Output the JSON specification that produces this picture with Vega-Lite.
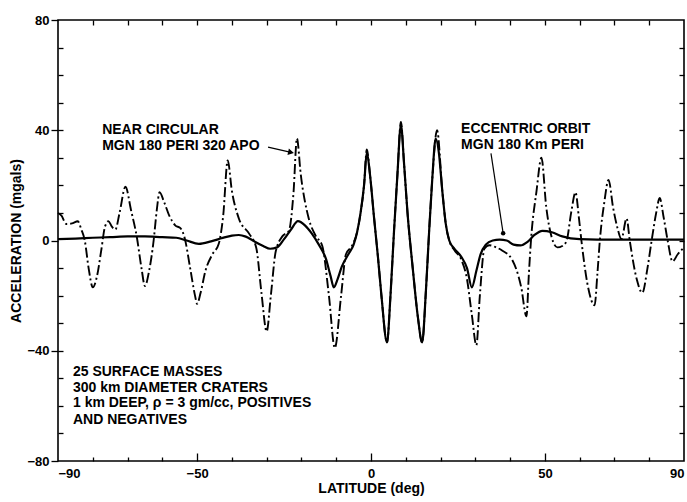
{
  "$schema": "https://vega.github.io/schema/vega-lite/v6.json",
  "width": 626,
  "height": 441,
  "autosize": {"type": "none"},
  "padding": {"left": 58, "top": 20, "right": 3, "bottom": 41},
  "background": "white",
  "config": {
    "view": {"stroke": "black", "strokeWidth": 1.6},
    "font": "Liberation Sans",
    "axis": {
      "domain": false, "grid": false,
      "tickColor": "black", "tickWidth": 1.3,
      "labelColor": "black", "titleColor": "black",
      "labelFont": "Liberation Sans", "labelFontWeight": "bold", "labelFontSize": 13,
      "titleFont": "Liberation Sans", "titleFontWeight": "bold", "titleFontSize": 14,
      "labelFlush": false, "labelOverlap": false
    }
  },
  "datasets": {
    "near": [
      {"lat": -90, "acc": 10}, {"lat": -89, "acc": 9}, {"lat": -87.6, "acc": 6}, {"lat": -86, "acc": 6.2},
      {"lat": -84.3, "acc": 7}, {"lat": -83.3, "acc": 4}, {"lat": -82.3, "acc": 0}, {"lat": -81.2, "acc": -10},
      {"lat": -80, "acc": -17}, {"lat": -78.8, "acc": -13}, {"lat": -77.5, "acc": -3}, {"lat": -76.5, "acc": 5},
      {"lat": -75.5, "acc": 7}, {"lat": -74.5, "acc": 5}, {"lat": -73.5, "acc": 4}, {"lat": -72.3, "acc": 10},
      {"lat": -70.6, "acc": 19.5}, {"lat": -69, "acc": 11}, {"lat": -67.3, "acc": 1}, {"lat": -66, "acc": -10},
      {"lat": -65, "acc": -16.5}, {"lat": -63.8, "acc": -11}, {"lat": -62.5, "acc": 0}, {"lat": -61.6, "acc": 11},
      {"lat": -60.8, "acc": 17.5}, {"lat": -59.5, "acc": 14}, {"lat": -58, "acc": 9}, {"lat": -56.3, "acc": 5.5},
      {"lat": -54.8, "acc": 4.5}, {"lat": -53.5, "acc": 0.5}, {"lat": -52, "acc": -10}, {"lat": -50.6, "acc": -20},
      {"lat": -50, "acc": -23}, {"lat": -49, "acc": -19}, {"lat": -47.6, "acc": -11}, {"lat": -45.6, "acc": -5},
      {"lat": -43.8, "acc": -1.3}, {"lat": -42.5, "acc": 9}, {"lat": -41.2, "acc": 29}, {"lat": -40, "acc": 18},
      {"lat": -38, "acc": 8}, {"lat": -35, "acc": 2.4}, {"lat": -33, "acc": -2.6}, {"lat": -31.5, "acc": -19},
      {"lat": -30, "acc": -33}, {"lat": -28.8, "acc": -20}, {"lat": -27.4, "acc": -4}, {"lat": -25.5, "acc": 1.5},
      {"lat": -23.6, "acc": 3.5}, {"lat": -22.3, "acc": 17}, {"lat": -21.3, "acc": 37}, {"lat": -20.2, "acc": 24},
      {"lat": -17.9, "acc": 8}, {"lat": -15.9, "acc": 1.7}, {"lat": -14, "acc": -2}, {"lat": -12.1, "acc": -20},
      {"lat": -10.4, "acc": -39}, {"lat": -8.6, "acc": -20}, {"lat": -7.2, "acc": -5}, {"lat": -5.5, "acc": -2},
      {"lat": -4, "acc": 3}, {"lat": -3, "acc": 10}, {"lat": -2, "acc": 20}, {"lat": -1.2, "acc": 33},
      {"lat": -0.3, "acc": 24}, {"lat": 0.9, "acc": 8}, {"lat": 2, "acc": -6}, {"lat": 3, "acc": -20},
      {"lat": 4.6, "acc": -37}, {"lat": 5.6, "acc": -20}, {"lat": 6.6, "acc": 3}, {"lat": 7.6, "acc": 24},
      {"lat": 8.6, "acc": 43}, {"lat": 9.5, "acc": 28}, {"lat": 10.5, "acc": 10}, {"lat": 12, "acc": -10},
      {"lat": 13.5, "acc": -28}, {"lat": 14.7, "acc": -37}, {"lat": 15.8, "acc": -18}, {"lat": 16.7, "acc": 3},
      {"lat": 17.6, "acc": 22}, {"lat": 19, "acc": 40}, {"lat": 20.5, "acc": 18}, {"lat": 21.5, "acc": 6},
      {"lat": 22.5, "acc": 0}, {"lat": 24, "acc": -3.5}, {"lat": 26, "acc": -7}, {"lat": 27.6, "acc": -14},
      {"lat": 29, "acc": -27}, {"lat": 30.3, "acc": -38}, {"lat": 31.3, "acc": -20}, {"lat": 32.6, "acc": -3},
      {"lat": 34, "acc": -1.7}, {"lat": 36, "acc": -2.5}, {"lat": 37.8, "acc": -3.7}, {"lat": 40.6, "acc": -7},
      {"lat": 43.2, "acc": -17}, {"lat": 44.7, "acc": -27.5}, {"lat": 45.4, "acc": -12}, {"lat": 46, "acc": 0},
      {"lat": 47.6, "acc": 18}, {"lat": 49, "acc": 30}, {"lat": 50.4, "acc": 12}, {"lat": 52, "acc": 1},
      {"lat": 53.6, "acc": -2.5}, {"lat": 55, "acc": -2}, {"lat": 56.2, "acc": -0.3}, {"lat": 57.6, "acc": 10.5},
      {"lat": 58.8, "acc": 17.5}, {"lat": 59.8, "acc": 8}, {"lat": 60.5, "acc": 0}, {"lat": 62.2, "acc": -15.5},
      {"lat": 64.3, "acc": -23.5}, {"lat": 65.1, "acc": -12}, {"lat": 65.8, "acc": 0}, {"lat": 67.1, "acc": 14},
      {"lat": 68.3, "acc": 22}, {"lat": 69.6, "acc": 12}, {"lat": 70.9, "acc": 4.4}, {"lat": 72, "acc": 0.5},
      {"lat": 73.5, "acc": 8}, {"lat": 74.4, "acc": 0}, {"lat": 76.4, "acc": -14}, {"lat": 78, "acc": -19},
      {"lat": 79.5, "acc": -10}, {"lat": 80.7, "acc": 0}, {"lat": 82, "acc": 10}, {"lat": 83, "acc": 15.4},
      {"lat": 84.2, "acc": 8}, {"lat": 85.3, "acc": 0}, {"lat": 86.7, "acc": -7.6}, {"lat": 88.2, "acc": -5},
      {"lat": 90, "acc": -2.5}
    ],
    "ecc": [
      {"lat": -90, "acc": 0.5}, {"lat": -85, "acc": 0.7}, {"lat": -80, "acc": 1}, {"lat": -75, "acc": 1.2},
      {"lat": -70, "acc": 1.5}, {"lat": -65, "acc": 1.5}, {"lat": -60, "acc": 1.2}, {"lat": -56, "acc": 1},
      {"lat": -53, "acc": 0}, {"lat": -49.5, "acc": -1.2}, {"lat": -46, "acc": -0.3}, {"lat": -43, "acc": 0.8},
      {"lat": -40, "acc": 1.8}, {"lat": -38, "acc": 2}, {"lat": -36, "acc": 1.4}, {"lat": -34, "acc": 0},
      {"lat": -31, "acc": -2}, {"lat": -29, "acc": -3}, {"lat": -27, "acc": -2.5}, {"lat": -25, "acc": 0.5},
      {"lat": -23, "acc": 4}, {"lat": -21, "acc": 7}, {"lat": -19, "acc": 5.5}, {"lat": -17, "acc": 2.5},
      {"lat": -15, "acc": -1.5}, {"lat": -13, "acc": -6.5}, {"lat": -11.6, "acc": -13}, {"lat": -10.7, "acc": -17},
      {"lat": -9.6, "acc": -14}, {"lat": -8.4, "acc": -9.5}, {"lat": -6.5, "acc": -5}, {"lat": -5, "acc": -1.5},
      {"lat": -4, "acc": 3}, {"lat": -3, "acc": 10}, {"lat": -2, "acc": 20}, {"lat": -1.2, "acc": 32},
      {"lat": -0.3, "acc": 24}, {"lat": 0.9, "acc": 8}, {"lat": 2, "acc": -6}, {"lat": 3, "acc": -20},
      {"lat": 4.6, "acc": -37}, {"lat": 5.6, "acc": -20}, {"lat": 6.6, "acc": 3}, {"lat": 7.6, "acc": 24},
      {"lat": 8.6, "acc": 42}, {"lat": 9.5, "acc": 28}, {"lat": 10.5, "acc": 10}, {"lat": 12, "acc": -10},
      {"lat": 13.5, "acc": -28}, {"lat": 14.7, "acc": -37}, {"lat": 15.8, "acc": -18}, {"lat": 16.7, "acc": 3},
      {"lat": 17.6, "acc": 22}, {"lat": 18.6, "acc": 37}, {"lat": 19.5, "acc": 32}, {"lat": 20.5, "acc": 18},
      {"lat": 21.5, "acc": 6}, {"lat": 22.5, "acc": 0}, {"lat": 24, "acc": -3}, {"lat": 26, "acc": -6},
      {"lat": 27.6, "acc": -10}, {"lat": 29, "acc": -17}, {"lat": 30.3, "acc": -11}, {"lat": 31.5, "acc": -5},
      {"lat": 33, "acc": -1.5}, {"lat": 35, "acc": 0}, {"lat": 37, "acc": 0.3}, {"lat": 39, "acc": 0},
      {"lat": 41, "acc": -1.5}, {"lat": 43, "acc": -1.8}, {"lat": 45, "acc": -0.5}, {"lat": 47, "acc": 2},
      {"lat": 49.3, "acc": 3.5}, {"lat": 52, "acc": 3}, {"lat": 55, "acc": 1.5}, {"lat": 60, "acc": 0.5},
      {"lat": 70, "acc": 0.3}, {"lat": 80, "acc": 0.3}, {"lat": 90, "acc": 0.3}
    ],
    "notes": [
      {"label": "NEAR CIRCULAR", "lat": -77.3, "acc": 38.8},
      {"label": "MGN 180 PERI 320 APO", "lat": -77.3, "acc": 32.7},
      {"label": "ECCENTRIC ORBIT", "lat": 25.9, "acc": 39.0},
      {"label": "MGN 180 Km PERI", "lat": 25.9, "acc": 33.2},
      {"label": "25 SURFACE MASSES", "lat": -85.7, "acc": -49.1},
      {"label": "300 km DIAMETER CRATERS", "lat": -85.7, "acc": -54.9},
      {"label": "1 km DEEP, ρ = 3 gm/cc, POSITIVES", "lat": -85.7, "acc": -60.3},
      {"label": "AND NEGATIVES", "lat": -85.7, "acc": -66.4}
    ],
    "arrows": [
      {"name": "apo", "x1": -29.6, "y1": 33.9, "x2": -23.0, "y2": 32.0},
      {"name": "ecc", "x1": 34.5, "y1": 31.6, "x2": 38.0, "y2": 2.6}
    ]
  },
  "resolve": {"axis": {"x": "independent", "y": "independent"}},
  "layer": [
    {
      "data": {"name": "near"},
      "mark": {"type": "line", "interpolate": "monotone", "stroke": "black", "strokeWidth": 1.9, "strokeDash": [10, 3, 2, 3]},
      "encoding": {
        "x": {"field": "lat", "type": "quantitative",
          "scale": {"domain": [-90, 90], "nice": false, "zero": false},
          "axis": {"orient": "bottom", "values": [-90, -50, 0, 50, 90], "ticks": false, "labelPadding": 6, "labelFlush": true, "title": "LATITUDE (deg)", "titlePadding": 1}},
        "y": {"field": "acc", "type": "quantitative",
          "scale": {"domain": [-80, 80], "nice": false, "zero": false},
          "axis": {"orient": "left", "values": [-80, -40, 0, 40, 80], "tickSize": 7, "labelPadding": 2, "title": "ACCELERATION (mgals)", "titlePadding": 3}}
      }
    },
    {
      "data": {"name": "ecc"},
      "mark": {"type": "line", "interpolate": "monotone", "stroke": "black", "strokeWidth": 2.2},
      "encoding": {
        "x": {"field": "lat", "type": "quantitative",
          "scale": {"domain": [-90, 90], "nice": false, "zero": false},
          "axis": {"orient": "top", "values": [-80, -70, -60, -50, -40, -30, -20, -10, 0, 10, 20, 30, 40, 50, 60, 70, 80], "tickSize": -5, "labels": false, "title": null}},
        "y": {"field": "acc", "type": "quantitative",
          "scale": {"domain": [-80, 80], "nice": false, "zero": false},
          "axis": {"orient": "right", "values": [-70, -60, -50, -40, -30, -20, -10, 0, 10, 20, 30, 40, 50, 60, 70], "tickSize": -5, "labels": false, "title": null}}
      }
    },
    {
      "data": {"name": "notes"},
      "mark": {"type": "text", "align": "left", "baseline": "alphabetic", "font": "Liberation Sans", "fontWeight": "bold", "fontSize": 14, "color": "black"},
      "encoding": {
        "x": {"field": "lat", "type": "quantitative",
          "scale": {"domain": [-90, 90], "nice": false, "zero": false},
          "axis": {"orient": "bottom", "values": [-80, -70, -60, -40, -30, -20, -10, 10, 20, 30, 40, 60, 70, 80], "tickSize": -4, "labels": false, "title": null}},
        "y": {"field": "acc", "type": "quantitative",
          "scale": {"domain": [-80, 80], "nice": false, "zero": false},
          "axis": {"orient": "left", "values": [-70, -60, -50, -40, -30, -20, -10, 10, 20, 30, 40, 50, 60, 70], "tickSize": -5, "labels": false, "title": null}},
        "text": {"field": "label", "type": "nominal"}
      }
    },
    {
      "data": {"name": "arrows"},
      "mark": {"type": "rule", "stroke": "black", "strokeWidth": 1.2},
      "encoding": {
        "x": {"field": "x1", "type": "quantitative",
          "scale": {"domain": [-90, 90], "nice": false, "zero": false},
          "axis": {"orient": "bottom", "values": [-50, 0, 50], "tickSize": -8, "labels": false, "title": null}},
        "y": {"field": "y1", "type": "quantitative",
          "scale": {"domain": [-80, 80], "nice": false, "zero": false}, "axis": null},
        "x2": {"field": "x2"},
        "y2": {"field": "y2"}
      }
    },
    {
      "data": {"name": "arrows"},
      "transform": [{"filter": "datum.name === 'apo'"}],
      "mark": {"type": "point", "shape": "triangle-right", "filled": true, "color": "black", "size": 45, "angle": 12, "opacity": 1},
      "encoding": {
        "x": {"field": "x2", "type": "quantitative", "scale": {"domain": [-90, 90], "nice": false, "zero": false}, "axis": null},
        "y": {"field": "y2", "type": "quantitative", "scale": {"domain": [-80, 80], "nice": false, "zero": false}, "axis": null}
      }
    },
    {
      "data": {"name": "arrows"},
      "transform": [{"filter": "datum.name === 'ecc'"}],
      "mark": {"type": "point", "shape": "circle", "filled": true, "color": "black", "size": 20, "opacity": 1},
      "encoding": {
        "x": {"field": "x2", "type": "quantitative", "scale": {"domain": [-90, 90], "nice": false, "zero": false}, "axis": null},
        "y": {"field": "y2", "type": "quantitative", "scale": {"domain": [-80, 80], "nice": false, "zero": false}, "axis": null}
      }
    }
  ]
}
